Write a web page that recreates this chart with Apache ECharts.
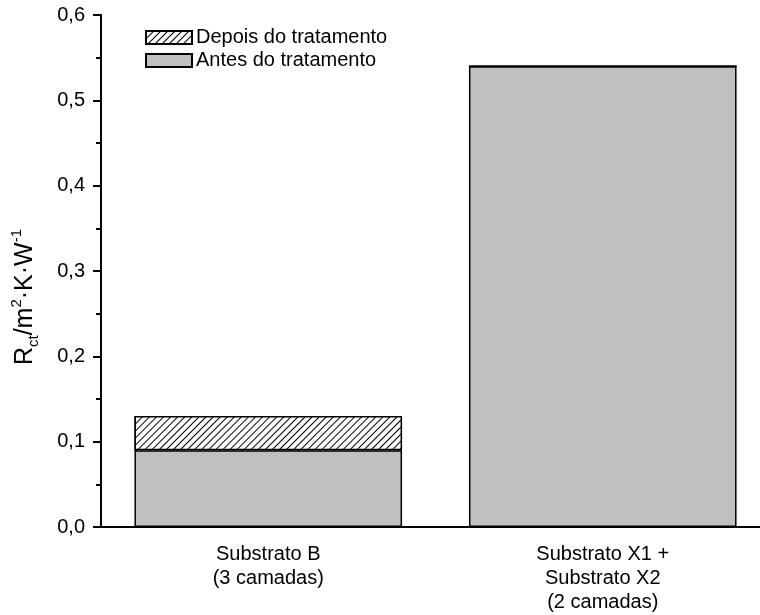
<!DOCTYPE html>
<html>
<head>
<meta charset="utf-8">
<script src="https://cdn.jsdelivr.net/npm/echarts@6/dist/echarts.min.js"></script>
<style>html,body{margin:0;padding:0;background:#fff;overflow:hidden;width:760px;height:615px}#c{width:770px;height:615px}</style>
</head>
<body>
<div id="c"></div>
<script>
var categories = ['Substrato B\n(3 camadas)', 'Substrato X1 +\nSubstrato X2\n(2 camadas)'];
var antes = [0.09, 0.54];
var depois = [0.13, 0.54];
var yTicks = [0, 0.1, 0.2, 0.3, 0.4, 0.5, 0.6];

var depoisExtra = depois.map(function (v, i) { return Math.round((v - antes[i]) * 1000) / 1000; });
var FONT = 'Arial, "Liberation Sans", sans-serif';
var chart = echarts.init(document.getElementById('c'));
chart.setOption({
  animation: false,
  backgroundColor: '#fff',
  grid: { left: 101, right: 0, top: 15, bottom: 88 },
  legend: {
    left: 140, top: 22.5, orient: 'vertical', itemWidth: 46, itemHeight: 13, itemGap: 3,
    icon: 'rect',
    textStyle: { fontSize: 20, color: '#000', fontFamily: FONT, padding: [0, 0, 0, -1] },
    data: ['Depois do tratamento', 'Antes do tratamento']
  },
  xAxis: [{
    type: 'category', data: categories,
    axisLine: { lineStyle: { color: '#000', width: 2 } },
    axisTick: { alignWithLabel: true, length: 7, lineStyle: { color: '#000', width: 2 } },
    axisLabel: { color: '#000', fontSize: 20, fontFamily: FONT, lineHeight: 24, margin: 15 },
    splitLine: { show: false }
  }, {
    type: 'category', data: categories, position: 'bottom',
    axisLine: { show: false },
    axisTick: { length: 4, lineStyle: { color: '#000', width: 2 } },
    axisLabel: { show: false }
  }],
  yAxis: {
    type: 'value', min: yTicks[0], max: yTicks[yTicks.length - 1], interval: 0.1,
    name: '{m|R}{sub|ct}{m|/m}{sup|2}{m|·K·W}{sup|-1}',
    nameLocation: 'middle', nameGap: 60,
    nameTextStyle: {
      padding: [0, 52, 0, 0],
      rich: {
        m: { fontSize: 25, fontFamily: FONT, color: '#000', lineHeight: 32 },
        sub: { fontSize: 15, fontFamily: FONT, color: '#000', verticalAlign: 'bottom', lineHeight: 32, padding: [13, 0, 0, 0] },
        sup: { fontSize: 15, fontFamily: FONT, color: '#000', verticalAlign: 'top', lineHeight: 32, padding: [0, 0, 13, 0] }
      }
    },
    axisLine: { show: true, lineStyle: { color: '#000', width: 2 } },
    axisTick: { show: true, length: 8, lineStyle: { color: '#000', width: 2 } },
    minorTick: { show: true, splitNumber: 2, length: 5, lineStyle: { color: '#000', width: 2 } },
    axisLabel: {
      color: '#000', fontSize: 20, fontFamily: FONT, margin: 16,
      formatter: function (v) { return v.toFixed(1).replace('.', ','); }
    },
    splitLine: { show: false }
  },
  series: [{
    name: 'Antes do tratamento', type: 'bar', stack: 's', barWidth: '80%', data: antes,
    itemStyle: { color: '#c0c0c0', borderColor: '#000', borderWidth: 1.5 }
  }, {
    name: 'Depois do tratamento', type: 'bar', stack: 's', barWidth: '80%', data: depoisExtra,
    itemStyle: {
      color: '#fff', borderColor: '#000', borderWidth: 1.5,
      decal: { symbol: 'rect', symbolSize: 1, dashArrayX: [1, 0], dashArrayY: [1, 3.3], rotation: -Math.PI / 4, color: '#000', backgroundColor: '#fff' }
    }
  }]
});
</script>
</body>
</html>
